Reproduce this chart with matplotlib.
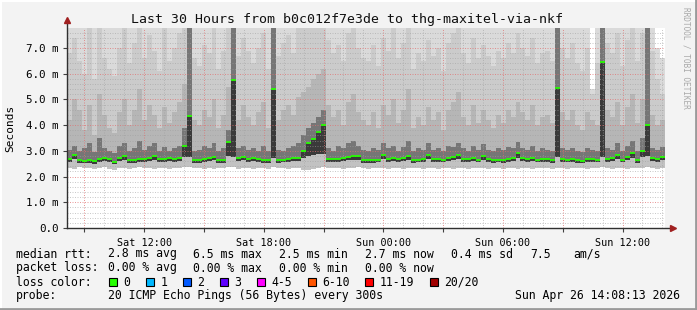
import numpy as np
import matplotlib
matplotlib.use("Agg")
import matplotlib.pyplot as plt
from matplotlib.lines import Line2D
from matplotlib.patches import Rectangle

plt.rcParams["font.family"] = ["DejaVu Sans Mono"]

W, H = 697, 310

# ---- data: hours since Sat 00:00, one sample every 15 min, values in ms ----
T_START = 8.13
STEP = 0.25

median_ms = [
    2.67, 2.84, 2.65, 2.62, 2.63, 2.60, 2.70, 2.72, 2.68, 2.58, 2.74, 2.80,
    2.66, 2.64, 2.70, 2.68, 2.74, 2.80, 2.68, 2.70, 2.72, 2.70, 2.73, 3.20,
    4.36, 2.65, 2.64, 2.70, 2.72, 2.78, 2.65, 2.64, 3.35, 5.76, 2.72, 2.78,
    2.70, 2.72, 2.68, 2.63, 2.64, 5.40, 2.65, 2.66, 2.70, 2.74, 2.72, 2.98,
    3.30, 3.45, 3.74, 4.00, 2.68, 2.70, 2.68, 2.72, 2.77, 2.80, 2.80, 2.65,
    2.65, 2.65, 2.66, 2.85, 2.70, 2.74, 2.68, 2.72, 2.80, 2.64, 2.66, 2.70,
    2.84, 2.68, 2.70, 2.66, 2.72, 2.76, 2.84, 2.70, 2.68, 2.72, 2.66, 2.80,
    2.68, 2.65, 2.66, 2.64, 2.70, 2.72, 2.90, 2.72, 2.68, 2.74, 2.66, 2.70,
    2.68, 2.64, 5.45, 2.68, 2.66, 2.70, 2.64, 2.62, 2.68, 2.70, 2.66, 6.46,
    2.70, 2.72, 2.84, 2.66, 2.77, 2.90, 2.64, 2.98, 4.00, 2.72, 2.68, 2.77,
]

ping_min = [
    2.34, 2.30, 2.36, 2.32, 2.34, 2.28, 2.32, 2.36, 2.30, 2.26, 2.34, 2.32,
    2.30, 2.34, 2.36, 2.32, 2.34, 2.28, 2.32, 2.34, 2.30, 2.34, 2.32, 2.36,
    2.38, 2.34, 2.32, 2.30, 2.34, 2.28, 2.32, 2.34, 2.36, 2.38, 2.30, 2.34,
    2.32, 2.30, 2.34, 2.32, 2.30, 2.36, 2.32, 2.34, 2.30, 2.32, 2.34, 2.24,
    2.26, 2.30, 2.32, 2.38, 2.34, 2.32, 2.34, 2.30, 2.32, 2.34, 2.36, 2.32,
    2.30, 2.34, 2.32, 2.34, 2.30, 2.32, 2.34, 2.30, 2.32, 2.34, 2.32, 2.30,
    2.34, 2.32, 2.30, 2.34, 2.32, 2.30, 2.34, 2.32, 2.30, 2.32, 2.34, 2.32,
    2.30, 2.32, 2.34, 2.30, 2.32, 2.34, 2.30, 2.32, 2.34, 2.30, 2.32, 2.34,
    2.32, 2.30, 2.34, 2.32, 2.30, 2.32, 2.34, 2.32, 2.30, 2.34, 2.32, 2.36,
    2.32, 2.30, 2.34, 2.32, 2.30, 2.34, 2.32, 2.34, 2.36, 2.32, 2.30, 2.34,
]

ping_q25 = [
    2.56, 2.68, 2.54, 2.52, 2.52, 2.50, 2.58, 2.60, 2.56, 2.48, 2.62, 2.66,
    2.54, 2.54, 2.58, 2.56, 2.62, 2.66, 2.56, 2.58, 2.60, 2.58, 2.60, 2.78,
    2.76, 2.54, 2.54, 2.58, 2.60, 2.64, 2.54, 2.54, 2.80, 2.76, 2.60, 2.64,
    2.58, 2.60, 2.56, 2.52, 2.54, 2.74, 2.54, 2.56, 2.58, 2.62, 2.60, 2.74,
    2.80, 2.84, 2.86, 2.88, 2.56, 2.58, 2.56, 2.60, 2.64, 2.66, 2.66, 2.54,
    2.54, 2.54, 2.56, 2.70, 2.58, 2.62, 2.56, 2.60, 2.66, 2.54, 2.56, 2.58,
    2.70, 2.56, 2.58, 2.56, 2.60, 2.64, 2.70, 2.58, 2.56, 2.60, 2.56, 2.66,
    2.56, 2.54, 2.56, 2.54, 2.58, 2.60, 2.74, 2.60, 2.56, 2.62, 2.56, 2.58,
    2.56, 2.54, 2.76, 2.56, 2.56, 2.58, 2.54, 2.52, 2.56, 2.58, 2.56, 2.78,
    2.58, 2.60, 2.70, 2.56, 2.64, 2.74, 2.54, 2.78, 2.80, 2.60, 2.56, 2.64,
]

ping_q75 = [
    3.05, 3.20, 3.00, 3.10, 3.30, 2.95, 3.50, 3.10, 3.00, 2.90, 3.20, 3.30,
    3.00, 3.10, 3.40, 3.05, 3.20, 3.30, 3.00, 3.15, 3.00, 3.10, 3.20, 3.90,
    7.80, 3.00, 3.05, 3.20, 3.10, 3.30, 3.00, 3.10, 3.80, 7.80, 3.10, 3.20,
    3.05, 3.10, 3.00, 3.20, 3.00, 7.80, 3.05, 3.00, 3.10, 3.20, 3.30, 3.60,
    3.90, 4.10, 4.30, 4.60, 3.10, 3.00, 3.20, 3.10, 3.30, 3.40, 3.20, 3.05,
    3.00, 3.10, 3.05, 3.30, 3.10, 3.20, 3.00, 3.15, 3.40, 3.00, 3.10, 3.05,
    3.30, 3.05, 3.10, 3.00, 3.20, 3.15, 3.30, 3.10, 3.00, 3.20, 3.05, 3.25,
    3.05, 3.00, 3.10, 3.05, 3.15, 3.10, 3.35, 3.10, 3.05, 3.20, 3.00, 3.10,
    3.05, 3.00, 7.80, 3.10, 3.05, 3.10, 3.00, 2.95, 3.10, 3.05, 3.00, 7.80,
    3.10, 3.05, 3.30, 3.00, 3.20, 3.40, 3.00, 3.50, 7.80, 3.10, 3.05, 3.15,
]

ping_q90 = [
    4.2, 5.0, 4.6, 3.8, 4.8, 3.6, 5.2, 4.4, 3.9, 3.7, 4.5, 5.0,
    4.0, 4.6, 5.4, 4.2, 4.8, 4.4, 3.9, 4.7, 4.1, 4.5, 4.9, 5.6,
    7.8, 4.2, 4.0, 4.6, 4.3, 5.0, 3.9, 4.4, 5.5, 7.8, 4.2, 4.8,
    4.3, 4.0, 4.5, 4.9, 3.9, 7.8, 4.2, 4.6, 4.8, 4.4, 5.1, 5.3,
    5.5, 5.8, 6.0, 6.2, 4.8, 4.3, 4.6, 4.0, 4.9, 5.2, 4.5, 4.2,
    4.0, 4.5, 3.9, 4.8, 4.4, 5.0, 4.1, 4.6, 5.4, 3.9, 4.3, 4.0,
    4.7, 4.2, 4.5, 3.8, 4.6, 4.9, 5.3, 4.3, 4.0, 4.8, 4.1, 4.6,
    4.2, 3.9, 4.4, 4.1, 4.6, 4.3, 4.9, 4.5, 4.2, 4.8, 4.0, 4.3,
    4.4, 4.1, 7.8, 4.5, 4.2, 4.6, 4.0, 3.8, 4.5, 4.2, 4.0, 7.8,
    4.6, 4.3, 4.9, 4.0, 4.7, 5.2, 4.1, 5.0, 7.8, 4.4, 4.0, 4.2,
]

ping_q95 = [
    6.8, 7.4, 6.5, 6.0, 7.8, 5.8, 7.8, 6.6, 6.2, 5.9, 7.0, 7.8,
    6.4, 7.2, 7.8, 6.6, 7.5, 6.9, 6.1, 7.8, 6.5, 7.0, 7.6, 7.8,
    7.8, 6.6, 6.3, 7.1, 6.8, 7.8, 6.2, 6.9, 7.8, 7.8, 6.7, 7.4,
    6.9, 6.4, 7.0, 7.6, 6.2, 7.8, 6.7, 7.2, 7.5, 6.8, 7.8, 7.8,
    7.8, 7.8, 7.8, 7.8, 7.3, 6.8, 7.1, 6.5, 7.6, 7.8, 7.0, 6.6,
    6.5, 7.1, 6.3, 7.4, 6.9, 7.8, 6.6, 7.2, 7.8, 6.2, 6.8, 6.5,
    7.3, 6.7, 7.0, 6.1, 7.2, 7.6, 7.8, 6.8, 6.4, 7.4, 6.6, 7.1,
    6.7, 6.3, 6.9, 6.6, 7.2, 6.8, 7.6, 7.0, 6.7, 7.4, 6.4, 6.8,
    6.9, 6.5, 7.8, 7.0, 6.6, 7.2, 6.4, 6.1, 7.0, 5.2, 6.4, 7.8,
    7.2, 6.8, 7.6, 6.3, 7.3, 7.8, 6.5, 7.6, 7.8, 6.9, 5.8, 5.2,
]

ping_max = [
    7.8, 7.8, 7.8, 7.8, 7.8, 7.8, 7.8, 7.8, 7.8, 7.8, 7.8, 7.8,
    7.8, 7.8, 7.8, 7.8, 7.8, 7.8, 7.8, 7.8, 7.8, 7.8, 7.8, 7.8,
    7.8, 7.8, 7.8, 7.8, 7.8, 7.8, 7.8, 7.8, 7.8, 7.8, 7.8, 7.8,
    7.8, 7.8, 7.8, 7.8, 7.8, 7.8, 7.8, 7.8, 7.8, 7.8, 7.8, 7.8,
    7.8, 7.8, 7.8, 7.8, 7.8, 7.8, 7.8, 7.8, 7.8, 7.8, 7.8, 7.8,
    7.8, 7.8, 7.8, 7.8, 7.8, 7.8, 7.8, 7.8, 7.8, 7.8, 7.8, 7.8,
    7.8, 7.8, 7.8, 7.8, 7.8, 7.8, 7.8, 7.8, 7.8, 7.8, 7.8, 7.8,
    7.8, 7.8, 7.8, 7.8, 7.8, 7.8, 7.8, 7.8, 7.8, 7.8, 7.8, 7.8,
    7.8, 7.8, 7.8, 7.8, 7.8, 7.8, 7.8, 7.8, 7.8, 5.4, 7.8, 7.8,
    7.8, 7.8, 7.8, 7.8, 7.8, 7.8, 7.8, 7.8, 7.8, 7.8, 7.0, 6.6,
]

x_ticks = [12, 18, 24, 30, 36]
x_labels = ["Sat 12:00", "Sat 18:00", "Sun 00:00", "Sun 06:00", "Sun 12:00"]
y_ticks = [0, 1, 2, 3, 4, 5, 6, 7]
y_labels = ["0.0", "1.0 m", "2.0 m", "3.0 m", "4.0 m", "5.0 m", "6.0 m", "7.0 m"]

loss_labels = ["0", "1", "2", "3", "4-5", "6-10", "11-19", "20/20"]
loss_colors = ["#26ff00", "#00b8ff", "#0059ff", "#5e00ff", "#ff00ff",
               "#ff5500", "#ff0000", "#a10000"]

# ---- figure ----
fig = plt.figure(figsize=(W / 100, H / 100), dpi=100, facecolor="#f3f3f3")


def fx(x):
    return x / W


def fy(y):
    return 1 - y / H


x0, x1, y0, y1 = 67, 665, 228, 28
ax = fig.add_axes([fx(x0), fy(y0), fx(x1) - fx(x0), fy(y1) - fy(y0)])
ax.set_facecolor("white")
ax.set_xlim(T_START, T_START + 30)
ax.set_ylim(0, 7.78)

edges = T_START + STEP * np.arange(len(median_ms) + 1)


def step_vals(v):
    return np.append(v, v[-1])


# smoke: outer pings light, inner pings dark
bands = [
    (ping_q95, ping_max, "#dadada"),
    (ping_q90, ping_q95, "#cbcbcb"),
    (ping_q75, ping_q90, "#b6b6b6"),
    (median_ms, ping_q75, "#767676"),
    (ping_q25, median_ms, "#3a3a3a"),
    (ping_min, ping_q25, "#c2c2c2"),
]
for lo, hi, col in bands:
    ax.fill_between(edges, step_vals(lo), step_vals(hi), step="post",
                    color=col, lw=0, zorder=1)

# median: small green dashes, no vertical links
ax.hlines(median_ms, edges[:-1], edges[1:], colors="#26ff00", lw=1.3, zorder=4)

# grid on top of smoke
for h in np.arange(9, 39, 1):
    major = h % 3 == 0
    ax.axvline(h, color="#e07070" if major else "#a0a0a0",
               alpha=0.7 if major else 0.55, lw=0.72, ls=(0, (1, 1.5)), zorder=3)
for v in np.arange(0.2, 7.8, 0.2):
    major = abs(v - round(v)) < 1e-6
    ax.axhline(v, color="#e07070" if major else "#a0a0a0",
               alpha=0.7 if major else 0.55, lw=0.72, ls=(0, (1, 1.5)), zorder=3)

for s in ax.spines.values():
    s.set_visible(False)

ax.set_xticks(x_ticks)
ax.set_xticklabels(x_labels, fontsize=7.3)
ax.set_xticks(np.arange(9, 39, 3), minor=True)
ax.set_yticks(y_ticks)
ax.set_yticklabels(y_labels, fontsize=7.8)
ax.tick_params(axis="both", which="both", length=3, width=0.8, color="#404040", pad=3)
ax.tick_params(axis="x", which="major", pad=4)
ax.set_ylabel("Seconds", fontsize=8, labelpad=8)

# axis lines with arrows
ax.plot([0, 0], [0, 1.03], transform=ax.transAxes, color="#303030", lw=1,
        clip_on=False, zorder=5)
ax.plot([0, 1.012], [0, 0], transform=ax.transAxes, color="#303030", lw=1,
        clip_on=False, zorder=5)
ax.plot([0], [1.04], marker="^", ms=4.5, color="#a02020", transform=ax.transAxes,
        clip_on=False, zorder=6)
ax.plot([1.014], [0], marker=">", ms=4.5, color="#a02020", transform=ax.transAxes,
        clip_on=False, zorder=6)

# title and watermark
fig.text(fx(347), fy(19), "Last 30 Hours from b0c012f7e3de to thg-maxitel-via-nkf",
         ha="center", va="center", fontsize=9.5, color="#101010")
fig.text(fx(686), fy(58), "RRDTOOL / TOBI OETIKER", rotation=270, ha="center",
         va="center", fontsize=5.6, color="#a8a8a8")

# legend block
fs = 8.3
rows = [254, 268, 282, 296]
fig.text(fx(16), fy(rows[0]), "median rtt:", fontsize=fs, va="center")
for x, s in zip([107.6, 193, 279, 365, 451, 530, 573],
                ["2.8 ms avg", "6.5 ms max", "2.5 ms min", "2.7 ms now",
                 "0.4 ms sd", "7.5", "am/s"]):
    fig.text(fx(x), fy(rows[0]), s, fontsize=fs, va="center")
fig.text(fx(16), fy(rows[1]), "packet loss:", fontsize=fs, va="center")
for x, s in zip([107.6, 193, 279, 365],
                ["0.00 % avg", "0.00 % max", "0.00 % min", "0.00 % now"]):
    fig.text(fx(x), fy(rows[1]), s, fontsize=fs, va="center")
fig.text(fx(16), fy(rows[2]), "loss color:", fontsize=fs, va="center")
for x, lab, col in zip([109, 146, 183, 220, 257, 308, 365, 430], loss_labels, loss_colors):
    fig.add_artist(Rectangle((fx(x), fy(rows[2] + 4)), 8 / W, 8 / H,
                             transform=fig.transFigure, facecolor=col,
                             edgecolor="black", lw=0.8))
    fig.text(fx(x + 14.6), fy(rows[2]), lab, fontsize=fs, va="center")
fig.text(fx(16), fy(rows[3]), "probe:", fontsize=fs, va="center")
fig.text(fx(107.6), fy(rows[3]), "20 ICMP Echo Pings (56 Bytes) every 300s",
         fontsize=fs, va="center")
fig.text(fx(680), fy(rows[3]), "Sun Apr 26 14:08:13 2026", fontsize=fs,
         va="center", ha="right")

# 3d-ish frame
fig.add_artist(Line2D([0, 1], [fy(0.5), fy(0.5)], transform=fig.transFigure, color="#ffffff", lw=1.5))
fig.add_artist(Line2D([fx(0.5), fx(0.5)], [0, 1], transform=fig.transFigure, color="#ffffff", lw=1.5))
fig.add_artist(Line2D([0, 1], [fy(H - 1), fy(H - 1)], transform=fig.transFigure, color="#9a9a9a", lw=2))
fig.add_artist(Line2D([fx(W - 1), fx(W - 1)], [0, 1], transform=fig.transFigure, color="#9a9a9a", lw=2))

fig.savefig("out.png", dpi=100, facecolor=fig.get_facecolor())
